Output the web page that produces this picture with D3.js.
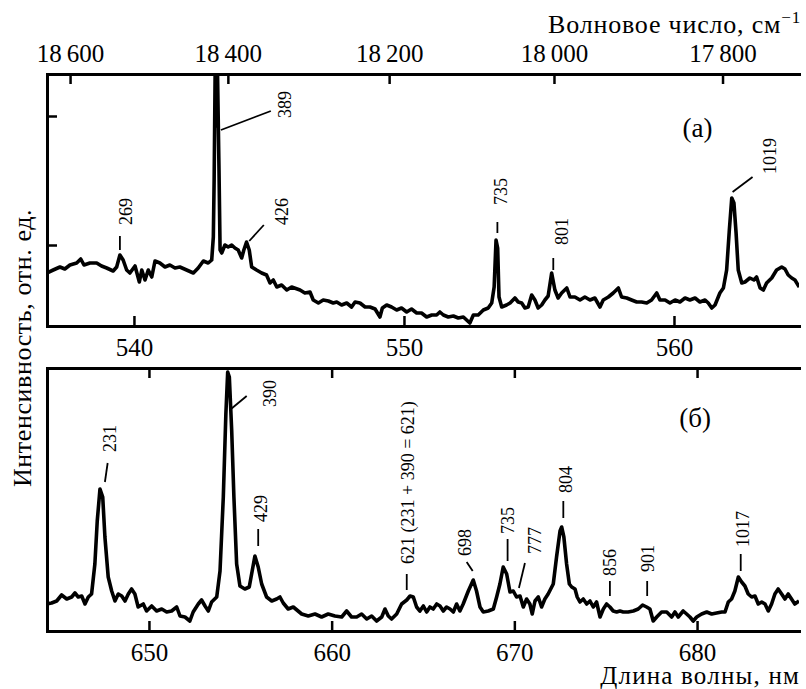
<!DOCTYPE html>
<html>
<head>
<meta charset="utf-8">
<title>Spectra</title>
<script src="https://d3js.org/d3.v7.min.js"></script>
<style>
  body { margin: 0; background: #fff; }
  text { font-family: "Liberation Serif", "Times New Roman", serif; fill: #000; }
</style>
</head>
<body>
<div id="chart"></div>
<script>
// ---- panel (a): wavelength, nm / intensity, rel. units
const wlA = [
  536.77,537.01,537.26,537.44,537.63,537.88,538.03,538.15,538.37,538.62,
  538.80,538.99,539.23,539.36,539.48,539.60,539.73,539.85,540.04,540.20,
  540.29,540.41,540.53,540.66,540.78,540.96,541.15,541.33,541.52,541.70,
  541.95,542.20,542.38,542.57,542.75,542.88,542.94,542.97,543.01,543.05,
  543.09,543.15,543.19,543.25,543.37,543.49,543.62,543.74,543.86,543.99,
  544.07,544.17,544.27,544.36,544.54,544.73,544.91,545.04,545.16,545.29,
  545.47,545.66,545.84,546.15,546.33,546.52,546.64,546.83,547.01,547.20,
  547.38,547.51,547.69,547.88,548.06,548.19,548.37,548.56,548.74,548.93,
  549.11,549.20,549.36,549.54,549.73,549.91,550.10,550.28,550.47,550.65,
  550.84,551.03,551.21,551.33,551.46,551.64,551.83,552.01,552.20,552.32,
  552.44,552.57,552.75,552.94,553.12,553.25,553.34,553.41,553.47,553.52,
  553.62,553.80,553.93,554.11,554.23,554.36,554.48,554.60,554.73,554.85,
  554.97,555.10,555.22,555.34,555.47,555.59,555.71,555.84,556.03,556.15,
  556.33,556.52,556.70,556.89,557.07,557.26,557.38,557.57,557.75,557.94,
  558.06,558.25,558.43,558.62,558.80,558.99,559.17,559.36,559.48,559.67,
  559.85,560.04,560.22,560.41,560.59,560.78,560.96,561.15,561.27,561.40,
  561.52,561.70,561.83,561.95,562.05,562.14,562.22,562.30,562.38,562.51,
  562.63,562.81,562.96,563.06,563.19,563.31,563.43,563.62,563.80,563.99,
  564.11,564.23,564.36,564.48,564.64
];
const intA = [
  53,56,59,57,61,63,67,61,63,63,
  60,58,55,59,71,66,56,53,60,44,
  56,46,56,49,65,63,59,61,58,59,
  56,53,58,65,63,66,89,146,262,200,
  262,156,76,73,81,79,81,78,76,68,
  76,84,76,59,56,53,51,43,46,39,
  41,36,39,36,33,34,26,23,26,25,
  23,24,21,23,19,24,23,19,19,17,
  9,18,21,19,16,18,14,17,13,13,
  9,11,11,14,11,9,10,8,9,6,
  3,11,11,16,18,23,39,86,78,29,
  19,21,23,28,24,23,18,19,31,26,
  18,21,26,30,53,36,28,33,38,29,
  29,26,29,26,28,19,26,29,33,38,
  29,28,26,24,24,23,26,33,26,26,
  23,26,24,28,26,28,24,26,23,18,
  21,33,38,56,96,128,123,93,56,43,
  44,48,46,49,38,36,43,48,56,59,
  57,51,48,46,39
];

// ---- panel (б)
const wlB = [
  644.40,644.67,644.95,645.22,645.50,645.77,645.95,646.13,646.32,646.50,
  646.68,646.86,647.04,647.17,647.32,647.47,647.59,647.77,647.96,648.14,
  648.32,648.51,648.69,648.87,649.05,649.23,649.41,649.69,649.87,650.15,
  650.42,650.70,650.97,651.24,651.52,651.70,651.97,652.24,652.42,652.70,
  652.88,653.07,653.25,653.43,653.71,653.89,654.07,654.21,654.31,654.40,
  654.53,654.65,654.80,654.98,655.25,655.49,655.65,655.80,655.98,656.17,
  656.44,656.72,656.99,657.17,657.35,657.62,657.90,658.36,658.72,659.09,
  659.45,659.81,660.18,660.55,660.82,661.09,661.37,661.64,661.92,662.19,
  662.46,662.74,662.92,663.10,663.28,663.56,663.83,664.11,664.29,664.47,
  664.65,664.83,665.02,665.20,665.38,665.56,665.75,665.93,666.11,666.29,
  666.48,666.66,666.84,667.02,667.20,667.48,667.75,667.93,668.12,668.30,
  668.57,668.85,669.03,669.21,669.39,669.58,669.76,669.94,670.12,670.31,
  670.49,670.67,670.85,670.98,671.13,671.31,671.49,671.67,671.85,672.13,
  672.31,672.50,672.59,672.71,672.86,673.01,673.14,673.32,673.44,673.59,
  673.77,673.96,674.14,674.32,674.50,674.69,674.87,675.05,675.23,675.41,
  675.60,675.78,675.96,676.23,676.51,676.78,677.02,677.24,677.42,677.60,
  677.79,678.06,678.34,678.61,678.79,678.97,679.24,679.43,679.61,679.79,
  679.98,680.25,680.53,680.80,681.07,681.35,681.53,681.71,681.89,682.07,
  682.26,682.44,682.62,682.80,682.99,683.17,683.35,683.54,683.72,683.90,
  684.08,684.26,684.44,684.63,684.81,684.99,685.17,685.35,685.58
];
const intB = [
  27,28,30,36,32,34,38,34,35,27,
  34,37,67,110,142,134,94,54,40,30,
  37,35,30,37,42,37,24,27,20,25,
  20,22,19,20,24,15,14,10,19,27,
  31,25,20,29,34,60,134,217,259,254,
  200,134,67,45,42,44,60,75,64,47,
  34,30,32,34,28,22,24,17,15,17,
  14,17,15,14,20,14,14,17,12,15,
  10,14,22,15,12,17,27,31,35,34,
  24,20,25,19,24,22,27,25,20,24,
  22,19,27,20,27,40,51,40,24,19,
  20,22,34,47,64,57,39,40,34,35,
  24,32,27,17,30,34,24,32,37,47,
  74,100,104,94,67,47,44,42,34,29,
  32,27,30,24,29,14,22,27,24,20,
  19,20,19,19,20,22,26,24,22,10,
  14,19,19,14,19,14,20,17,14,10,
  14,17,19,17,18,19,19,29,32,40,
  54,49,45,37,34,35,27,29,27,20,
  27,37,42,37,32,37,32,27,30
];

// axis ticks
const ticksA = [540, 550, 560];
const ticksB = [650, 660, 670, 680];
const wnTicks = [18600, 18400, 18200, 18000, 17800];
const wnLabels = ["18\u2009600", "18\u2009400", "18\u2009200", "18\u2009000", "17\u2009800"];
const yTicksA = [81, 210];

// peak annotations: label, label anchor [wl, int], leader [wl1, int1, wl2, int2]
const peakLabelsA = ["269", "389", "426", "735", "801", "1019"];
const labelAtA = [[539.69,101],[545.59,208],[545.47,101],[553.59,121],[555.87,81],[563.57,152]];
const leaderA = [[539.48,90,539.48,76],[543.22,196,545.07,215],[544.27,85,544.81,101],
                 [553.46,104,553.46,93],[555.53,68,555.53,56],[562.17,134,562.91,149]];

const peakLabelsB = ["231", "390", "429", "621 (231 + 390 = 621)", "698", "735", "777", "804", "856", "901", "1017"];
const labelAtB = [[647.88,179],[656.61,224],[656.13,109],[664.18,67],[667.30,75],[669.65,97],
                  [671.13,77],[672.82,138],[675.23,55],[677.31,59],[682.49,84]];
const leaderB = [[647.59,149,647.74,168],[654.49,222,655.35,235],[655.98,102,655.98,85],
                 [664.11,57,664.11,41],[667.39,69,667.72,60],[669.63,92,669.63,70],
                 [670.58,68,670.25,43],[672.68,130,672.68,113],[675.23,50,675.23,35],
                 [677.27,50,677.27,35],[682.39,77,682.39,60]];

const panelTags = ["(а)", "(б)"];
const tagAt = [[560.87,189],[679.89,204]];

// ---- layout
const W = 806, H = 689, L = 47, R = 799;
const FONT = "Liberation Serif, Times New Roman, serif";

const svg = d3.select("#chart").append("svg")
  .attr("width", W).attr("height", H)
  .attr("font-family", FONT);
svg.append("rect").attr("width", W).attr("height", H).attr("fill", "#fff");

const xA = d3.scaleLinear().domain([536.78, 564.63]).range([L, R]);
const yA = d3.scaleLinear().domain([0, 252]).range([326, 74]);
const xB = d3.scaleLinear().domain([644.42, 685.58]).range([L, R]);
const yB = d3.scaleLinear().domain([0, 263]).range([631, 368]);

function styleAxis(g) {
  g.attr("font-family", FONT).attr("font-size", 25);
  g.select(".domain").attr("stroke-width", 3).attr("stroke-linecap", "square");
  g.selectAll(".tick line").attr("stroke-width", 2.5);
  g.selectAll(".tick text").attr("fill", "#000");
}

function drawPanel(id, x, y, wl, val, ticks, labels, labelAt, leaders, tag, tagPos) {
  const g = svg.append("g");
  const [bottom, top] = y.range();

  g.append("clipPath").attr("id", "clip-" + id).append("rect")
    .attr("x", L).attr("y", top).attr("width", R - L).attr("height", bottom - top);

  const line = d3.line().x(i => x(wl[i])).y(i => y(val[i]));
  g.append("path")
    .datum(d3.range(wl.length))
    .attr("clip-path", `url(#clip-${id})`)
    .attr("d", line)
    .attr("fill", "none")
    .attr("stroke", "#000")
    .attr("stroke-width", 3.6)
    .attr("stroke-linejoin", "round");

  // bottom axis (ticks inward)
  g.append("g").attr("transform", `translate(0,${bottom})`)
    .call(d3.axisBottom(x).tickValues(ticks).tickFormat(d3.format("d"))
      .tickSize(-10).tickSizeOuter(0).tickPadding(12))
    .call(styleAxis);

  // leaders
  g.selectAll(".leader").data(leaders).join("line")
    .attr("x1", d => x(d[0])).attr("y1", d => y(d[1]))
    .attr("x2", d => x(d[2])).attr("y2", d => y(d[3]))
    .attr("stroke", "#000").attr("stroke-width", 1.8);

  // rotated peak labels
  g.selectAll(".plabel").data(labels).join("text")
    .attr("transform", (d, i) => `translate(${x(labelAt[i][0])},${y(labelAt[i][1])}) rotate(-90)`)
    .attr("dominant-baseline", "central")
    .attr("font-size", 18)
    .text(d => d);

  g.append("text")
    .attr("x", x(tagPos[0])).attr("y", y(tagPos[1]))
    .attr("text-anchor", "middle")
    .attr("font-size", 27)
    .text(tag);
  return g;
}

const gA = drawPanel("a", xA, yA, wlA, intA, ticksA, peakLabelsA, labelAtA, leaderA, panelTags[0], tagAt[0]);
const gB = drawPanel("b", xB, yB, wlB, intB, ticksB, peakLabelsB, labelAtB, leaderB, panelTags[1], tagAt[1]);

// top axis of (a): wavenumber, cm^-1 (nonlinear, placed via wavelength scale)
gA.append("g").attr("transform", `translate(0,${yA.range()[1]})`)
  .call(d3.axisTop(xA).tickValues(wnTicks.map(w => 1e7 / w))
    .tickFormat((d, i) => wnLabels[i]).tickSize(-10).tickSizeOuter(0).tickPadding(12))
  .call(styleAxis);

// left side of (a) with two inward ticks
gA.append("g").attr("transform", `translate(${L},0)`)
  .call(d3.axisLeft(yA).tickValues(yTicksA).tickFormat("").tickSize(-10).tickSizeOuter(0))
  .call(styleAxis);

// top and left sides of (б)
gB.append("g").attr("transform", `translate(0,${yB.range()[1]})`)
  .call(d3.axisTop(xB).tickValues(ticksB).tickFormat("").tickSize(-10).tickSizeOuter(0))
  .call(styleAxis);
gB.append("g").attr("transform", `translate(${L},0)`)
  .call(d3.axisLeft(yB).tickValues([]).tickSizeOuter(0))
  .call(styleAxis);

// axis titles
const topTitle = svg.append("text")
  .attr("x", 801).attr("y", 33)
  .attr("text-anchor", "end")
  .attr("font-size", 26)
  .attr("letter-spacing", 0.8);
topTitle.append("tspan").text("Волновое число, см");
topTitle.append("tspan").attr("dy", -10).attr("font-size", 17).text("\u22121");

svg.append("text")
  .attr("x", 800).attr("y", 684)
  .attr("text-anchor", "end")
  .attr("font-size", 25)
  .attr("letter-spacing", 1.2)
  .text("Длина волны, нм");

svg.append("text")
  .attr("transform", "translate(22,348) rotate(-90)")
  .attr("text-anchor", "middle")
  .attr("dominant-baseline", "central")
  .attr("font-size", 26)
  .attr("letter-spacing", 0.6)
  .text("Интенсивность, отн. ед.");
</script>
</body>
</html>
